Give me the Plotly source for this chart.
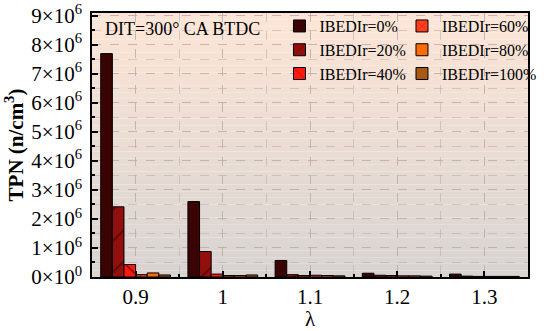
import plotly.graph_objects as go

# ---- data ----
lam = [0.9, 1.0, 1.1, 1.2, 1.3]
series_names = ["IBEDIr=0%", "IBEDIr=20%", "IBEDIr=40%", "IBEDIr=60%", "IBEDIr=80%", "IBEDIr=100%"]
ibedir0 = [7.7e6, 2.6e6, 0.57e6, 0.13e6, 0.10e6]
ibedir20 = [2.42e6, 0.88e6, 0.08e6, 0.06e6, 0.03e6]
ibedir40 = [0.43e6, 0.10e6, 0.05e6, 0.05e6, 0.02e6]
ibedir60 = [0.08e6, 0.05e6, 0.06e6, 0.04e6, 0.02e6]
ibedir80 = [0.14e6, 0.05e6, 0.05e6, 0.04e6, 0.02e6]
ibedir100 = [0.07e6, 0.07e6, 0.04e6, 0.03e6, 0.02e6]
series_vals = [ibedir0, ibedir20, ibedir40, ibedir60, ibedir80, ibedir100]
y_tickvals = [i * 1e6 for i in range(10)]
y_ticktext = ["0×10<sup>0</sup>"] + [f"{i}×10<sup>6</sup>" for i in range(1, 10)]
x_tickvals = [0.9, 1.0, 1.1, 1.2, 1.3]
x_ticktext = ["0.9", "1", "1.1", "1.2", "1.3"]

colors = ["#3a0405", "#930f0c", "#ff1a10", "#ff3e1e", "#ff6a05", "#a85a14"]
patterns = ["", "/", "\\", "x", "", ""]
legend_ids = ["legend", "legend", "legend", "legend2", "legend2", "legend2"]

FONT = "Liberation Serif"

fig = go.Figure()
for name, vals, c, p, lg in zip(series_names, series_vals, colors, patterns, legend_ids):
    fig.add_trace(go.Bar(
        x=lam, y=vals, name=name, legend=lg,
        marker=dict(color=c, line=dict(color="black", width=1),
                    pattern=dict(shape=p, fgcolor="#1a0000", size=22, solidity=0.08)),
    ))

# background gradient (peach top -> grey bottom)
n = 40
top = (252, 229, 214)
bot = (216, 212, 210)
for i in range(n):
    t = i / (n - 1)
    col = tuple(round(top[k] + (bot[k] - top[k]) * t) for k in range(3))
    fig.add_shape(type="rect", xref="paper", yref="paper",
                  x0=0, x1=1, y0=1 - (i + 1) / n, y1=1 - i / n,
                  fillcolor=f"rgb{col}", line=dict(width=0), layer="below")

fig.add_annotation(text="DIT=300° CA BTDC", xref="paper", yref="paper",
                   x=0.025, y=0.985, xanchor="left", yanchor="top", showarrow=False,
                   font=dict(family=FONT, size=18, color="black"))

grid = "rgba(190,170,160,0.55)"
leg_common = dict(orientation="v", yanchor="top", xanchor="left", bgcolor="rgba(0,0,0,0)",
                  borderwidth=0, font=dict(family=FONT, size=16, color="black"),
                  itemwidth=30, tracegroupgap=0)
fig.update_layout(
    width=550, height=331,
    margin=dict(l=92, r=8, t=13, b=54),
    paper_bgcolor="white", plot_bgcolor="rgba(0,0,0,0)",
    barmode="group", bargap=0.2, bargroupgap=0,
    font=dict(family=FONT, size=16, color="black"),
    legend=dict(x=0.430, y=1.015, **leg_common),
    legend2=dict(x=0.711, y=1.015, **leg_common),
    xaxis=dict(range=[0.85, 1.35], tickmode="array", tickvals=x_tickvals, ticktext=x_ticktext,
               ticks="inside", ticklen=6, tickwidth=1.5, tickcolor="black",
               showline=True, linecolor="black", linewidth=1.5, mirror=True,
               showgrid=True, gridcolor=grid, griddash="dash", gridwidth=1,
               minor=dict(tick0=0.85, dtick=0.05, ticks="inside", ticklen=3, tickcolor="black",
                          showgrid=True, gridcolor=grid, griddash="dash"),
               title=dict(text="λ", font=dict(family=FONT, size=21), standoff=4),
               tickfont=dict(family=FONT, size=21), zeroline=False, automargin=False),
    yaxis=dict(range=[0, 9.1e6], tickmode="array", tickvals=y_tickvals, ticktext=y_ticktext,
               ticks="inside", ticklen=6, tickwidth=1.5, tickcolor="black",
               showline=True, linecolor="black", linewidth=1.5, mirror=True,
               showgrid=True, gridcolor=grid, griddash="dash", gridwidth=1,
               minor=dict(tick0=0, dtick=0.5e6, ticks="inside", ticklen=3, tickcolor="black",
                          showgrid=True, gridcolor=grid, griddash="dash"),
               title=dict(text="<b>TPN (n/cm<sup>3</sup>)</b>", font=dict(family=FONT, size=21), standoff=2),
               tickfont=dict(family=FONT, size=21), zeroline=False, automargin=False,
               ticklabelstandoff=4),
)

fig.write_html("out.html", config={"displayModeBar": False},
               post_script="document.body.style.margin='0';")
